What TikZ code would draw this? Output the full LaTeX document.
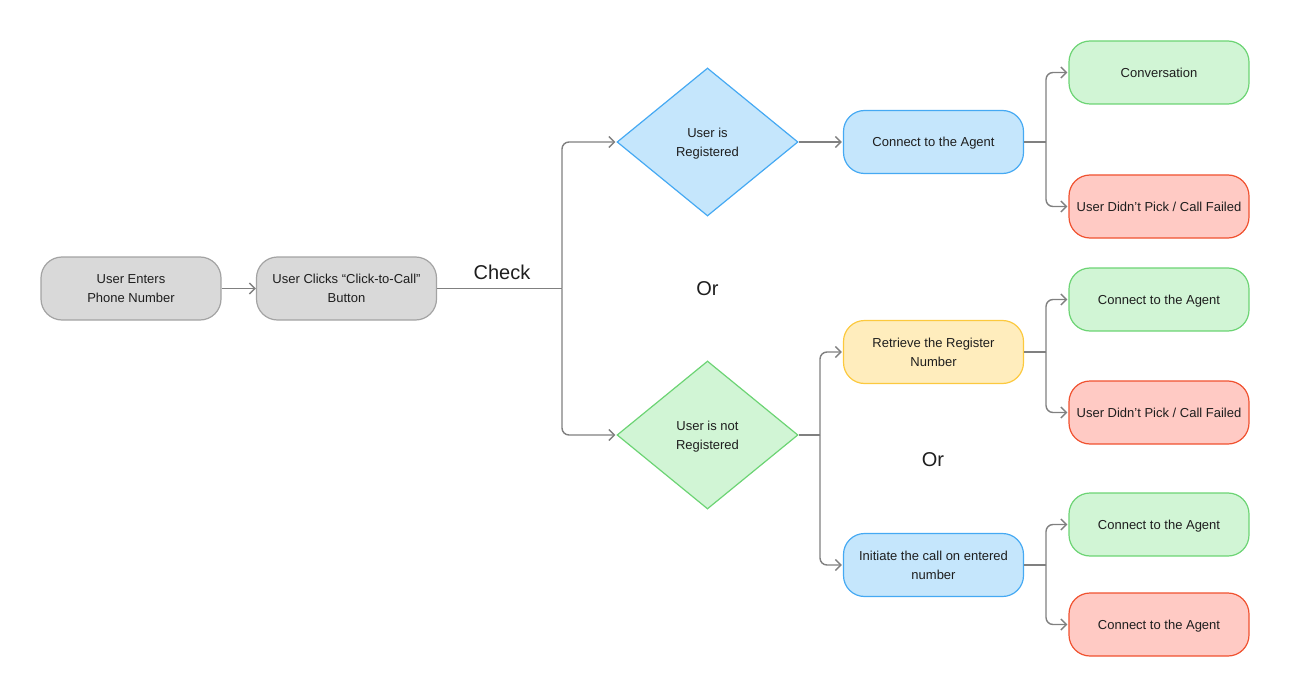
\documentclass[tikz,border=0pt]{standalone}
\usepackage{fontspec}
\setmainfont{Liberation Sans}
\usetikzlibrary{shapes.geometric,arrows.meta}
\definecolor{grayfill}{HTML}{D9D9D9}
\definecolor{graydraw}{HTML}{A3A3A3}
\definecolor{bluefill}{HTML}{C5E6FC}
\definecolor{bluedraw}{HTML}{45A9F3}
\definecolor{greenfill}{HTML}{D1F5D5}
\definecolor{greendraw}{HTML}{6CD474}
\definecolor{redfill}{HTML}{FFCAC4}
\definecolor{reddraw}{HTML}{F0512F}
\definecolor{yellowfill}{HTML}{FFEDBD}
\definecolor{yellowdraw}{HTML}{FCC93E}
\definecolor{linecol}{HTML}{808080}
\definecolor{txt}{HTML}{1E1E1E}
\tikzset{
  box/.style={rounded corners=21pt, minimum width=180pt, minimum height=63pt, line width=1.2pt, align=center, inner sep=2pt, text depth=0pt, font=\fontsize{13}{19}\selectfont, text=txt},
  graybox/.style={box, fill=grayfill, draw=graydraw},
  bluebox/.style={box, fill=bluefill, draw=bluedraw},
  greenbox/.style={box, fill=greenfill, draw=greendraw},
  redbox/.style={box, fill=redfill, draw=reddraw},
  yellowbox/.style={box, fill=yellowfill, draw=yellowdraw},
  dia/.style={diamond, minimum width=181pt, minimum height=148pt, inner sep=0pt, line width=1.2pt, align=center, text depth=0pt, font=\fontsize{13}{19}\selectfont, text=txt},
  conn/.style={draw=linecol, line width=1.4pt, rounded corners=7pt, -{Straight Barb[length=5.5pt,width=11pt,line width=1.4pt]}},
  plain/.style={draw=linecol, line width=1.4pt, rounded corners=7pt},
  big/.style={font=\fontsize{20}{24}\selectfont, text=txt},
}
\begin{document}
\begin{tikzpicture}[x=1pt,y=-1pt]
\useasboundingbox (0,0) rectangle (1290,695);
% nodes
\node[graybox] (enter) at (131,288.5) {User Enters\\Phone Number};
\node[graybox] (click) at (346.5,288.5) {User Clicks “Click-to-Call”\\Button};
\node[big] (check) at (502,272) {Check};
\node[dia, fill=bluefill, draw=bluedraw] (reg) at (707.5,142) {User is\\Registered};
\node[dia, fill=greenfill, draw=greendraw] (notreg) at (707.5,435) {User is not\\Registered};
\node[big] (or1) at (707.5,289) {Or};
\node[bluebox] (agent1) at (933.5,142) {Connect to the Agent};
\node[greenbox] (conv) at (1159,72.5) {Conversation};
\node[redbox] (fail1) at (1159,206.5) {User Didn’t Pick / Call Failed};
\node[yellowbox] (retr) at (933.5,352) {Retrieve the Register\\Number};
\node[greenbox] (agent2) at (1159,299.5) {Connect to the Agent};
\node[redbox] (fail2) at (1159,412.5) {User Didn’t Pick / Call Failed};
\node[big] (or2) at (933,460) {Or};
\node[bluebox] (init) at (933.5,565) {Initiate the call on entered\\number};
\node[greenbox] (agent3) at (1159,524.5) {Connect to the Agent};
\node[redbox] (agent4) at (1159,624.5) {Connect to the Agent};
% junctions
\coordinate (j0) at (562,288.5);
\coordinate (j1) at (1046,142);
\coordinate (j2) at (820,435);
\coordinate (j3) at (1046,352);
\coordinate (j4) at (1046,565);
% connectors
\draw[conn, rounded corners=0pt] (enter.east) -- (click.west);
\draw[plain] (click.east) -- (j0);
\draw[conn] (j0) |- ([xshift=-1pt]reg.west);
\draw[conn] (j0) |- ([xshift=-1pt]notreg.west);
\draw[conn, rounded corners=0pt] (reg.east) -- ([xshift=-1pt]agent1.west);
\draw[plain] (agent1.east) -- (j1);
\draw[conn] (j1) |- ([xshift=-1pt]conv.west);
\draw[conn] (j1) |- ([xshift=-1pt]fail1.west);
\draw[plain] (notreg.east) -- (j2);
\draw[conn] (j2) |- ([xshift=-1pt]retr.west);
\draw[conn] (j2) |- ([xshift=-1pt]init.west);
\draw[plain] (retr.east) -- (j3);
\draw[conn] (j3) |- ([xshift=-1pt]agent2.west);
\draw[conn] (j3) |- ([xshift=-1pt]fail2.west);
\draw[plain] (init.east) -- (j4);
\draw[conn] (j4) |- ([xshift=-1pt]agent3.west);
\draw[conn] (j4) |- ([xshift=-1pt]agent4.west);
\end{tikzpicture}
\end{document}
